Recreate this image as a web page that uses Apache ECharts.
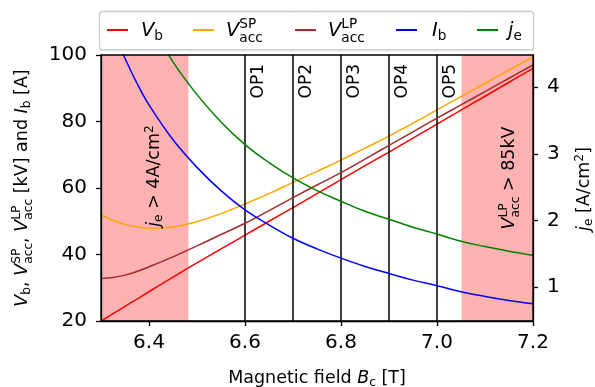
<!DOCTYPE html>
<html>
<head>
<meta charset="utf-8">
<script src="https://cdn.jsdelivr.net/npm/echarts@6/dist/echarts.min.js"></script>
<style>
html, body { margin: 0; padding: 0; background: #fff; }
#chart { width: 595px; height: 387px; }
</style>
</head>
<body>
<div id="chart"></div>
<script>
// magnetic field B_c [T]
const field = [6.30, 6.325, 6.35, 6.375, 6.40, 6.45, 6.50, 6.55, 6.60, 6.65, 6.70, 6.75, 6.80, 6.85, 6.90, 6.95, 7.00, 7.05, 7.10, 7.15, 7.20];
// voltages [kV]
const vBeam  = [20.0, 22.2, 24.4, 26.6, 28.8, 33.2, 37.5, 41.7, 45.8, 50.0, 54.1, 58.3, 62.5, 66.7, 70.8, 75.0, 79.2, 83.4, 87.6, 91.8, 96.0];
const vAccSP = [51.8, 50.3, 49.0, 48.3, 47.9, 48.3, 49.9, 52.3, 55.2, 58.3, 61.7, 65.0, 68.4, 72.0, 75.6, 79.5, 83.5, 87.5, 91.5, 95.5, 99.4];
const vAccLP = [32.8, 33.1, 33.8, 34.9, 36.3, 39.3, 42.6, 46.0, 49.4, 53.2, 57.1, 60.9, 64.6, 68.7, 72.8, 76.9, 81.0, 85.0, 89.0, 93.0, 97.0];
// beam current [A]
const iBeam  = [116, 107, 99, 91.5, 85, 74.5, 66.2, 59.2, 53.4, 48.9, 44.9, 41.7, 38.9, 36.4, 34.3, 32.3, 30.6, 28.8, 27.4, 26.2, 25.2];
// emitter current density [A/cm2]
const jEmit  = [6.8, 6.3, 5.82, 5.38, 5.0, 4.38, 3.89, 3.48, 3.14, 2.87, 2.64, 2.45, 2.29, 2.14, 2.02, 1.90, 1.80, 1.69, 1.61, 1.54, 1.48];

const opField = [6.6, 6.7, 6.8, 6.9, 7.0];
const opNames = ['OP1', 'OP2', 'OP3', 'OP4', 'OP5'];
const jeLimitEnd = 6.482;    // j_e > 4 A/cm2 below this
const vLimitStart = 7.051;   // V_acc^LP > 85 kV above this

const xTicks = [6.4, 6.6, 6.8, 7.0, 7.2];
const jTicks = [1, 2, 3, 4];

const FONT = "'DejaVu Sans', sans-serif";
const colors = ['#ff0000', '#ffa500', '#a52a2a', '#0000ff', '#008000'];
const names = ['Vb', 'VaccSP', 'VaccLP', 'Ib', 'je'];
const legendIconX = [107, 193, 295, 396, 477];
const legendTextX = [141, 226, 328, 432, 508];

// --- small mathtext helper (sub/superscripts) ---
const mctx = document.createElement('canvas').getContext('2d');
function tw(s, size, it) {
  mctx.font = (it ? 'italic ' : '') + size + 'px ' + FONT;
  return mctx.measureText(s).width;
}
function piece(s, x, base, size, it) {
  return {
    type: 'text', x: x, y: base - 0.3 * size, z: 100,
    style: { text: s, fontSize: size, fontFamily: FONT, fontStyle: it ? 'italic' : 'normal',
             fill: '#000', verticalAlign: 'middle', align: 'left' }
  };
}
function mathLabel(parts, size) {
  const els = [];
  const small = size * 0.7;
  let x = 0;
  parts.forEach(p => {
    if (typeof p === 'string') p = { t: p };
    if (p.t) {
      els.push(piece(p.t, x, 0, size, p.it));
      x += tw(p.t, size, p.it);
    }
    let w = 0;
    if (p.sup) {
      els.push(piece(p.sup, x, -(p.sub ? 0.44 : 0.4) * size, small));
      w = Math.max(w, tw(p.sup, small));
    }
    if (p.sub) {
      els.push(piece(p.sub, x, (p.sup ? 0.26 : 0.16) * size, small));
      w = Math.max(w, tw(p.sub, small));
    }
    x += w;
  });
  return { els: els, width: x };
}
// horizontal label, left at x, baseline at y (or centred on cx)
function hLabel(parts, size, o) {
  const m = mathLabel(parts, size);
  const x = o.cx != null ? o.cx - m.width / 2 : o.x;
  return { type: 'group', x: x, y: o.y, z: 100, children: m.els };
}
// vertical label reading upwards, baseline at x, centred on cy
function vLabel(parts, size, o) {
  const m = mathLabel(parts, size);
  return { type: 'group', x: o.x, y: o.cy + m.width / 2, z: 100, rotation: Math.PI / 2, children: m.els };
}

const VB = [{ t: 'V', it: true, sub: 'b' }];
const VSP = [{ t: 'V', it: true, sup: 'SP', sub: 'acc' }];
const VLP = [{ t: 'V', it: true, sup: 'LP', sub: 'acc' }];
const IB = [{ t: 'I', it: true, sub: 'b' }];
const JE = [{ t: 'j', it: true, sub: 'e' }];
const legendLabels = [VB, VSP, VLP, IB, JE];

const graphics = [
  { type: 'rect', z: 1, shape: { x: 99.5, y: 11.5, width: 434, height: 38.5, r: 3 },
    style: { fill: '#fff', stroke: '#cccccc', lineWidth: 1.3 } }
];
legendLabels.forEach((l, i) => graphics.push(hLabel(l, 19.5, { x: legendTextX[i], y: 37 })));
graphics.push(
  hLabel(['Magnetic field ', { t: 'B', it: true, sub: 'c' }, ' [T]'], 17.5, { cx: 317, y: 383.5 }),
  vLabel(VB.concat([', '], VSP, [', '], VLP, [' [kV] and '], IB, [' [A]']), 17.5, { x: 28, cy: 188 }),
  vLabel(JE.concat([' [A/cm', { sup: '2' }, ']']), 17.5, { x: 590, cy: 189 }),
  vLabel(JE.concat([' > 4A/cm', { sup: '2' }]), 17.5, { x: 160, cy: 176 }),
  vLabel(VLP.concat([' > 85kV']), 17.5, { x: 515, cy: 178 })
);

const axisLine = { show: true, lineStyle: { color: '#000', width: 1.3 } };
const tick = (vals) => ({ show: true, inside: false, length: 5, customValues: vals, lineStyle: { color: '#000', width: 1.3 } });
const tickLabel = { color: '#000', fontSize: 20, fontFamily: FONT };

const makeSeries = (i, data, yIdx) => ({
  name: names[i], type: 'line', yAxisIndex: yIdx, showSymbol: false, symbol: 'none',
  smooth: 0.4, clip: true, z: 3 + i,
  lineStyle: { color: colors[i], width: 1.5 }, itemStyle: { color: colors[i] },
  data: field.map((b, k) => [b, data[k]])
});

const seriesList = [
  makeSeries(0, vBeam, 0),
  makeSeries(1, vAccSP, 0),
  makeSeries(2, vAccLP, 0),
  makeSeries(3, iBeam, 0),
  makeSeries(4, jEmit, 1)
];
// shaded limits and operating points on a helper series
seriesList.push({
  type: 'line', data: [], z: 1, silent: true,
  markArea: {
    silent: true,
    itemStyle: { color: '#ffb2b2' },
    data: [[{ xAxis: 6.3 }, { xAxis: jeLimitEnd }], [{ xAxis: vLimitStart }, { xAxis: 7.2 }]]
  },
  markLine: {
    silent: true, symbol: 'none', animation: false,
    lineStyle: { color: '#000', width: 1.5, type: 'solid' },
    label: { show: true, formatter: '{b}', position: 'insideEndBottom', distance: [9, 5],
             color: '#000', fontSize: 17, fontFamily: FONT },
    data: opField.map((v, i) => ({ xAxis: v, name: opNames[i] }))
  }
});

// one legend per entry so each icon sits where the reference puts it
const legends = names.map((n, i) => ({
  data: [n], left: legendIconX[i], top: 29, padding: 0, z: 5,
  icon: 'rect', itemWidth: 21, itemHeight: 2, selectedMode: false,
  formatter: () => ''
}));

const chart = echarts.init(document.getElementById('chart'), null, { renderer: 'canvas' });
chart.setOption({
  animation: false,
  grid: { left: 101, right: 62, top: 55, bottom: 66, show: true, z: 10, borderColor: '#000', borderWidth: 1.3 },
  legend: legends,
  xAxis: {
    type: 'value', min: 6.3, max: 7.2, z: 10,
    axisLine: axisLine, axisTick: tick(xTicks), splitLine: { show: false },
    axisLabel: Object.assign({ customValues: xTicks, margin: 12, formatter: v => v.toFixed(1) }, tickLabel)
  },
  yAxis: [
    {
      type: 'value', min: 20, max: 100, interval: 20, z: 10,
      axisLine: axisLine, axisTick: { show: true, length: 5, lineStyle: { color: '#000', width: 1.3 } },
      splitLine: { show: false },
      axisLabel: Object.assign({ margin: 14 }, tickLabel)
    },
    {
      type: 'value', min: 0.494, max: 4.484, position: 'right', z: 10,
      axisLine: axisLine, axisTick: tick(jTicks), splitLine: { show: false },
      axisLabel: Object.assign({ customValues: jTicks, margin: 14 }, tickLabel)
    }
  ],
  series: seriesList,
  graphic: graphics
});
</script>
</body>
</html>
